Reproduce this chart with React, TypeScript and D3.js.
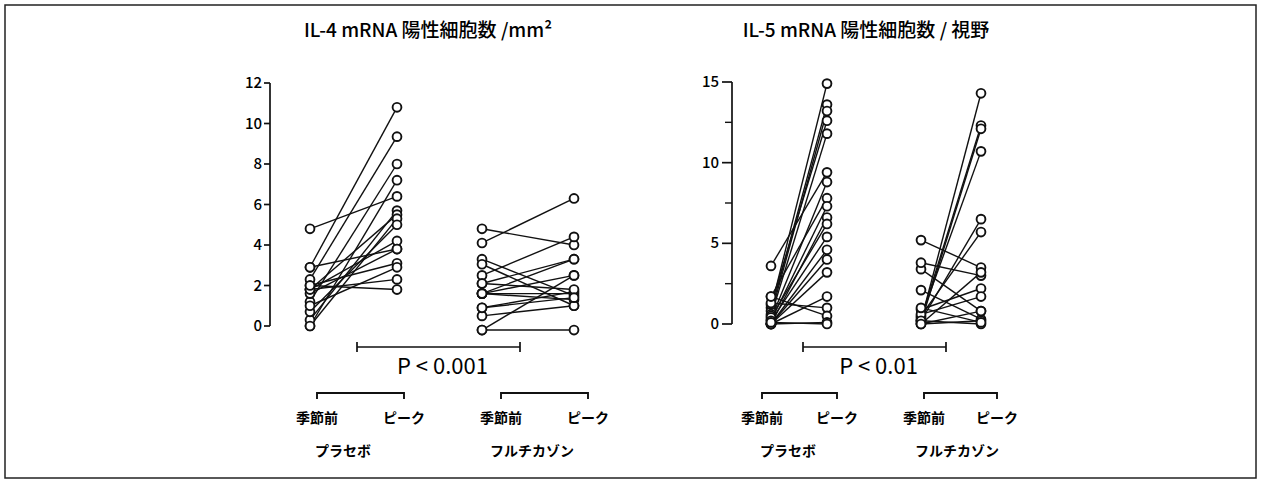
import React, { useEffect, useRef } from "react";
import * as d3 from "d3";

// IL-4 mRNA (cells/mm2), one entry per subject: pre-season -> peak
const il4PlaceboPre = [2.9, 2.3, 1.2, 0, 4.8, 0.3, 1.8, 0, 0.7, 1.8, 2.9, 1.6, 2.0, 1.0, 1.8, 2.0];
const il4PlaceboPeak = [10.8, 9.35, 8.0, 7.2, 6.4, 5.7, 5.5, 5.3, 5.0, 4.2, 3.8, 3.8, 3.1, 2.9, 2.3, 1.8];
const il4FlutPre = [4.1, 4.8, 3.3, 3.05, 2.5, 2.1, 1.6, 1.6, 1.6, 1.6, 0.9, 0.5, -0.2, -0.2, 2.1, 0.9];
const il4FlutPeak = [6.3, 4.0, 1.5, 1.0, 4.4, 3.3, 2.5, 1.6, 1.3, 3.3, 1.7, 1.0, 2.5, -0.2, 1.8, 1.4];

// IL-5 mRNA (cells/field)
const il5PlaceboPre = [1.0, 0.8, 0.6, 1.2, 0.5, 3.6, 0.3, 1.7, 0.2, 0, 0.4, 0.2, 0, 0, 0, 0, 1.3, 1.7, 0, 0.1];
const il5PlaceboPeak = [14.9, 13.6, 13.2, 12.6, 11.8, 9.4, 8.8, 7.8, 7.3, 6.6, 6.2, 5.4, 4.6, 4.0, 3.2, 1.7, 1.0, 0.5, 0.1, 0];
const il5FlutPre = [0.2, 0.3, 0.1, 0.4, 0.2, 0.5, 5.2, 3.4, 3.8, 0, 2.1, 0.9, 0.6, 0, 0.2, 0, 1.0];
const il5FlutPeak = [14.3, 12.3, 12.1, 10.7, 6.5, 5.7, 3.5, 0.8, 3.0, 3.2, 0.3, 2.2, 1.7, 0.8, 0, 0.2, 0.1];

const il4Ticks = [0, 2, 4, 6, 8, 10, 12];
const il5Ticks = [0, 5, 10, 15];
const il5MinorTicks = [2.5, 7.5, 12.5];

const JP = "'Noto Sans CJK JP', 'Noto Sans', sans-serif";

const App = () => {
  const ref = useRef<SVGSVGElement | null>(null);

  useEffect(() => {
    const svg = d3.select(ref.current);
    svg.selectAll("*").remove();

    svg
      .append("rect")
      .attr("x", 5)
      .attr("y", 5)
      .attr("width", 1251)
      .attr("height", 473)
      .attr("fill", "white")
      .attr("stroke", "#222")
      .attr("stroke-width", 1.5);

    const drawPanel = (opts: any) => {
      const { axisX, y, ticks, minor, tickLen, labelGap, title, titleX, xs, groups, pBar, pText, brackets } = opts;
      const g = svg.append("g");

      g.append("text")
        .attr("x", titleX)
        .attr("y", 37)
        .attr("text-anchor", "middle")
        .style("font-family", JP)
        .style("font-size", "19px")
        .style("font-weight", 500)
        .text(title);

      // axis
      const [d0, d1] = y.domain();
      g.append("line")
        .attr("x1", axisX)
        .attr("x2", axisX)
        .attr("y1", y(d0))
        .attr("y2", y(d1))
        .attr("stroke", "#111")
        .attr("stroke-width", 1.7);
      ticks.forEach((t: number) => {
        g.append("line")
          .attr("x1", axisX - tickLen)
          .attr("x2", axisX)
          .attr("y1", y(t))
          .attr("y2", y(t))
          .attr("stroke", "#111")
          .attr("stroke-width", 1.7);
        g.append("text")
          .attr("x", axisX - tickLen - labelGap)
          .attr("y", y(t) + 5)
          .attr("text-anchor", "end")
          .style("font-family", JP)
          .style("font-size", "15px")
          .style("font-weight", 500)
          .text(t);
      });
      minor.forEach((t: number) => {
        g.append("line")
          .attr("x1", axisX - 7)
          .attr("x2", axisX)
          .attr("y1", y(t))
          .attr("y2", y(t))
          .attr("stroke", "#111")
          .attr("stroke-width", 1.4);
      });

      groups.forEach((grp: any, gi: number) => {
        const [x0, x1] = xs[gi];
        const pairs = grp.pre.map((p: number, i: number) => [p, grp.peak[i]]);
        g.append("g")
          .selectAll("line")
          .data(pairs)
          .join("line")
          .attr("x1", x0)
          .attr("x2", x1)
          .attr("y1", (d: any) => y(d[0]))
          .attr("y2", (d: any) => y(d[1]))
          .attr("stroke", "#111")
          .attr("stroke-width", 1.4);
        const pts = pairs.flatMap((d: any) => [
          [x0, d[0]],
          [x1, d[1]],
        ]);
        g.append("g")
          .selectAll("circle")
          .data(pts)
          .join("circle")
          .attr("cx", (d: any) => d[0])
          .attr("cy", (d: any) => y(d[1]))
          .attr("r", 4.4)
          .attr("fill", "white")
          .attr("stroke", "#111")
          .attr("stroke-width", 1.9);
      });

      // P bracket
      const py = 347;
      g.append("path")
        .attr("d", `M${pBar[0]},${py - 5}V${py + 5}M${pBar[0]},${py}H${pBar[1]}M${pBar[1]},${py - 5}V${py + 5}`)
        .attr("fill", "none")
        .attr("stroke", "#111")
        .attr("stroke-width", 1.7);
      g.append("text")
        .attr("x", (pBar[0] + pBar[1]) / 2 + 4)
        .attr("y", 374)
        .attr("text-anchor", "middle")
        .style("font-family", JP)
        .style("font-size", "22px")
        .text(pText);

      brackets.forEach((b: any) => {
        const by = 393;
        g.append("path")
          .attr("d", `M${b.x0},${by + 6}V${by}H${b.x1}V${by + 6}`)
          .attr("fill", "none")
          .attr("stroke", "#111")
          .attr("stroke-width", 1.9);
        [
          [b.x0, "季節前"],
          [b.x1, "ピーク"],
        ].forEach(([x, s]) => {
          g.append("text")
            .attr("x", x)
            .attr("y", 423)
            .attr("text-anchor", "middle")
            .style("font-family", JP)
            .style("font-size", "14px")
            .style("font-weight", 700)
            .text(s as string);
        });
        g.append("text")
          .attr("x", b.labelX)
          .attr("y", 456)
          .attr("text-anchor", "middle")
          .style("font-family", JP)
          .style("font-size", "14px")
          .style("font-weight", 700)
          .text(b.label);
      });
    };

    const y4 = d3.scaleLinear().domain([0, 12]).range([326, 83]);
    drawPanel({
      axisX: 270,
      y: y4,
      ticks: il4Ticks,
      minor: [],
      tickLen: 6,
      labelGap: 2,
      title: "IL-4 mRNA 陽性細胞数 /mm²",
      titleX: 428,
      xs: [
        [310, 397],
        [482, 574],
      ],
      groups: [
        { pre: il4PlaceboPre, peak: il4PlaceboPeak },
        { pre: il4FlutPre, peak: il4FlutPeak },
      ],
      pBar: [357, 520],
      pText: "P < 0.001",
      brackets: [
        { x0: 317, x1: 404, label: "プラセボ", labelX: 343 },
        { x0: 501, x1: 588, label: "フルチカゾン", labelX: 532 },
      ],
    });

    const y5 = d3.scaleLinear().domain([0, 15]).range([324, 82]);
    drawPanel({
      axisX: 732,
      y: y5,
      ticks: il5Ticks,
      minor: il5MinorTicks,
      tickLen: 10,
      labelGap: 3,
      title: "IL-5 mRNA 陽性細胞数 / 視野",
      titleX: 866,
      xs: [
        [771, 827],
        [921, 981],
      ],
      groups: [
        { pre: il5PlaceboPre, peak: il5PlaceboPeak },
        { pre: il5FlutPre, peak: il5FlutPeak },
      ],
      pBar: [803, 946],
      pText: "P < 0.01",
      brackets: [
        { x0: 762, x1: 837, label: "プラセボ", labelX: 788 },
        { x0: 924, x1: 997, label: "フルチカゾン", labelX: 957 },
      ],
    });
  }, []);

  return (
    <svg
      ref={ref}
      width={1262}
      height={484}
      style={{ position: "absolute", left: 0, top: 0, background: "white" }}
    />
  );
};

export default App;
